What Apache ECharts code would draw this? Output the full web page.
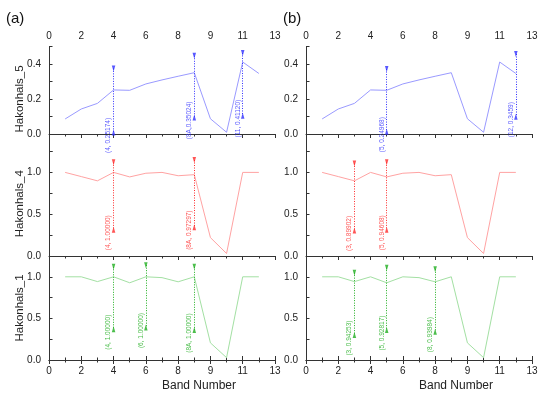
<!DOCTYPE html>
<html><head><meta charset="utf-8">
<script src="https://cdn.jsdelivr.net/npm/echarts@6/dist/echarts.min.js"></script>
<style>html,body{margin:0;padding:0;background:#fff}#c{width:550px;height:399px}</style>
</head><body><div id="c"></div>
<script>
const bands = ['1','2','3','4','5','6','7','8','8A','9','10','11','12'];
const xTickLabels = ['0','2','4','6','8','9','11','13'];
const yLabels5 = ['0.0','0.2','0.4'];
const yLabels41 = ['0.0','0.5','1.0'];
const seriesNames = ['Hakonhals_5','Hakonhals_4','Hakonhals_1'];
const h5 = [0.086,0.143,0.175,0.25174,0.24968,0.286,0.309,0.330,0.35024,0.087,0.010,0.41120,0.3459];
const h4 = [1.0,0.95,0.89902,1.0,0.94608,0.99,1.0,0.96,0.97297,0.22,0.03,1.0,1.0];
const h1 = [1.0,1.0,0.94253,1.0,0.92817,1.0,0.99,0.93984,1.0,0.206,0.028,1.0,1.0];

// annotations (a)
const annA5Bands = ['4','8A','11'];
const annA5Top = [0.375,0.447,0.463];
const annA5Bottom = [0.009,0.095,0.105];
const annA5Text = ['(4, 0.25174)','(8A,0.35024)','(11, 0.41120)'];
const annA4Bands = ['4','8A'];
const annA4Top = [1.12,1.148];
const annA4Bottom = [0.314,0.345];
const annA4Text = ['(4, 1.00000)','(8A, 0.97297)'];
const annA1Bands = ['4','6','8A'];
const annA1Top = [1.12,1.14,1.12];
const annA1Bottom = [0.37,0.39,0.36];
const annA1Text = ['(4, 1.00000)','(6, 1.00000)','(8A, 1.00000)'];
// annotations (b)
const annB5Bands = ['5','12'];
const annB5Top = [0.371,0.457];
const annB5Bottom = [0.013,0.099];
const annB5Text = ['(5, 0.24968)','(12, 0.3459)'];
const annB4Bands = ['3','5'];
const annB4Top = [1.107,1.12];
const annB4Bottom = [0.306,0.314];
const annB4Text = ['(3, 0.89902)','(5, 0.94608)'];
const annB1Bands = ['3','5','8'];
const annB1Top = [1.05,1.11,1.09];
const annB1Bottom = [0.30,0.36,0.34];
const annB1Text = ['(3, 0.94253)','(5, 0.92817)','(8, 0.93984)'];

const lineColors = ['#9a9aff','#ffa3a3','#a3e0a3'];
const annColors = ['#2f2fff','#ff2a2a','#1fae1f'];
const axisColor = '#333';
const panels = [
  {col:0,row:0,data:h5,ann:[annA5Bands,annA5Top,annA5Bottom,annA5Text]},
  {col:0,row:1,data:h4,ann:[annA4Bands,annA4Top,annA4Bottom,annA4Text]},
  {col:0,row:2,data:h1,ann:[annA1Bands,annA1Top,annA1Bottom,annA1Text]},
  {col:1,row:0,data:h5,ann:[annB5Bands,annB5Top,annB5Bottom,annB5Text]},
  {col:1,row:1,data:h4,ann:[annB4Bands,annB4Top,annB4Bottom,annB4Text]},
  {col:1,row:2,data:h1,ann:[annB1Bands,annB1Top,annB1Bottom,annB1Text]}
];
const lefts = [49,306];
const tops = [46.5,151.5,256];
const heights = [105,104.5,104];

const grid=[], xAxis=[], yAxis=[], series=[];
function xAx(gi, pos, showLabels){
  return {type:'value', gridIndex:gi, position:pos, min:0, max:14, interval:2,
    axisLine:{show:true,lineStyle:{color:axisColor,width:1}},
    axisTick:{show:true,inside:true,length:4,lineStyle:{color:axisColor}},
    minorTick:{show:true,splitNumber:2,length:2.5,lineStyle:{color:axisColor}},
    splitLine:{show:false},minorSplitLine:{show:false},
    axisLabel:{show:showLabels,margin:pos==='top'?5:6,fontSize:10,color:'#222',fontFamily:'Liberation Sans',
      formatter:v=>xTickLabels[Math.round(v/2)]||''}};
}
panels.forEach((p,gi)=>{
  grid.push({left:lefts[p.col],top:tops[p.row],width:226,height:heights[p.row],containLabel:false});
  xAxis.push(xAx(gi,'top',p.row===0));
  const topIdx = xAxis.length-1;
  let dataX = topIdx;
  if(p.row===2){ xAxis.push(xAx(gi,'bottom',true)); dataX = xAxis.length-1; }
  const labels = p.row===0?yLabels5:yLabels41;
  yAxis.push({type:'value',gridIndex:gi,
    min:p.row===0?-0.1:0, max:p.row===0?0.5:1.25, interval:p.row===0?0.1:0.25,
    name:p.col===0?seriesNames[p.row]:'', nameLocation:'middle', nameGap:23, nameMoveOverlap:false,
    nameTextStyle:{fontSize:11.5,color:'#222',fontFamily:'Liberation Sans'},
    axisLine:{show:true,lineStyle:{color:axisColor,width:1}},
    axisTick:{show:true,inside:true,length:3.5,lineStyle:{color:axisColor}},
    splitLine:{show:false},
    axisLabel:{margin:8,fontSize:10,color:'#222',fontFamily:'Liberation Sans',
      formatter:v=>{const l=labels.find(s=>Math.abs(parseFloat(s)-v)<1e-6);return l||'';}}});
  const yi = yAxis.length-1;
  const col = lineColors[p.row], ac = annColors[p.row];
  const [ab,at,abot,atxt] = p.ann;
  const ax = ab.map(b=>bands.indexOf(b)+1);
  series.push({type:'line',xAxisIndex:dataX,yAxisIndex:yi,showSymbol:false,symbol:'none',
    lineStyle:{color:col,width:1},data:p.data.map((v,i)=>[i+1,v]),animation:false,
    markLine:{silent:true,symbol:['none','none'],animation:false,label:{show:false},
      lineStyle:{color:ac,width:1,type:[1,1.5]},
      data:ax.map((x,i)=>[{coord:[x,at[i]]},{coord:[x,abot[i]]}])}});
  series.push({type:'scatter',xAxisIndex:dataX,yAxisIndex:yi,symbol:'triangle',symbolRotate:180,
    symbolSize:[3.5,6],itemStyle:{color:ac},animation:false,silent:true,
    data:ax.map((x,i)=>[x,at[i]])});
  series.push({type:'scatter',xAxisIndex:dataX,yAxisIndex:yi,symbol:'triangle',
    symbolSize:[3.5,6],itemStyle:{color:ac},animation:false,silent:true,
    label:{show:true,position:'inside',rotate:90,offset:[-3,-5],fontSize:6.5,color:ac,
      fontFamily:'Liberation Sans',formatter:pp=>atxt[pp.dataIndex]},
    data:ax.map((x,i)=>[x,abot[i]])});
});
const chart = echarts.init(document.getElementById('c'),null,{renderer:'canvas'});
chart.setOption({
  animation:false, backgroundColor:'#fff',
  grid, xAxis, yAxis, series,
  graphic:[
    {type:'text',left:6,top:11,style:{text:'(a)',fontSize:15,fill:'#111',fontFamily:'Liberation Sans'}},
    {type:'text',left:283,top:11,style:{text:'(b)',fontSize:15,fill:'#111',fontFamily:'Liberation Sans'}},
    {type:'text',left:162,top:380,style:{text:'Band Number',fontSize:12,fill:'#222',fontFamily:'Liberation Sans',align:'center'}},
    {type:'text',left:419,top:380,style:{text:'Band Number',fontSize:12,fill:'#222',fontFamily:'Liberation Sans',align:'center'}}
  ]
});
</script></body></html>
